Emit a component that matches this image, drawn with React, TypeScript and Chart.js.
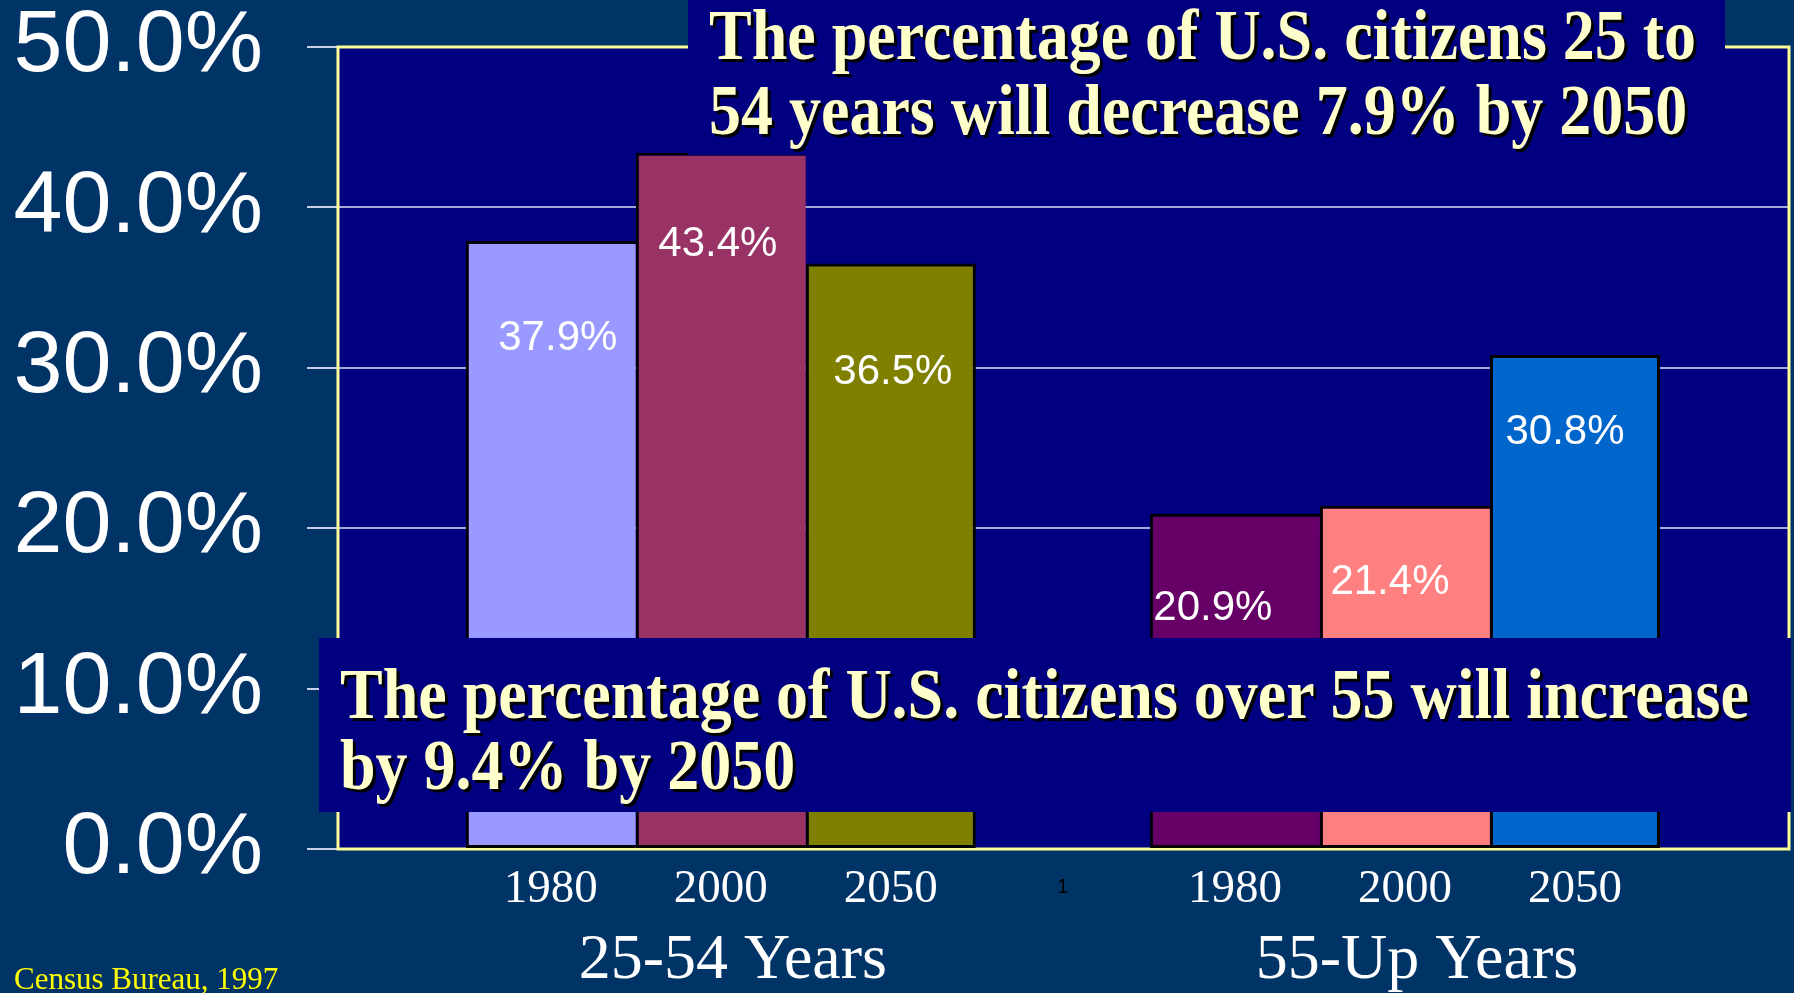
import React, { useEffect, useRef } from 'react';
import { Chart, registerables } from 'chart.js';

Chart.register(...registerables);

// ---- data ----
const groups = ['25-54 Years', '55-Up Years'];
const years = ['1980', '2000', '2050'];
const values1980 = [37.9, 20.9];
const values2000 = [43.4, 21.4];
const values2050 = [36.5, 30.8];
const yTicks = [0, 10, 20, 30, 40, 50];
const topNote = ['The percentage of U.S. citizens 25 to', '54 years will decrease 7.9% by 2050'];
const bottomNote = ['The percentage of U.S. citizens over 55 will increase', 'by 9.4% by 2050'];
const sourceNote = 'Census Bureau, 1997';
const strayLabel = '1';

// ---- styles ----
const colors1980 = ['#9999FF', '#660066'];
const colors2000 = ['#993366', '#FF8080'];
const colors2050 = ['#808000', '#0066CC'];
// label nudges [dx, dy] relative to bar top-centre, per dataset / per group
const labelNudge = [
  [[7, 97], [-22, 95]],
  [[-3, 92], [-15, 77]],
  [[2, 109], [-10, 77]],
];

const OUTER_BG = '#003366';
const PLOT_BG = '#000080';
const FRAME = '#FFFF99';
const NOTE_TEXT = '#FFFFCC';

const series = [values1980, values2000, values2050];
const seriesColors = [colors1980, colors2000, colors2050];

function drawNote(ctx: CanvasRenderingContext2D, lines: string[], x: number, baselines: number[]) {
  ctx.save();
  ctx.font = 'bold 64px "Liberation Serif", "Times New Roman", serif';
  ctx.textAlign = 'left';
  ctx.textBaseline = 'alphabetic';
  ctx.fillStyle = NOTE_TEXT;
  ctx.shadowColor = '#000000';
  ctx.shadowOffsetX = 3;
  ctx.shadowOffsetY = 3;
  ctx.shadowBlur = 0;
  lines.forEach((l, i) => {
    ctx.save();
    ctx.translate(x, baselines[i]);
    ctx.scale(1, 1.12);
    ctx.fillText(l, 0, 0);
    ctx.restore();
  });
  ctx.restore();
}

const decorPlugin = {
  id: 'decor',
  beforeDraw(chart: any) {
    const { ctx, chartArea: a, width, height } = chart;
    ctx.save();
    ctx.fillStyle = OUTER_BG;
    ctx.fillRect(0, 0, width, height);
    ctx.fillStyle = PLOT_BG;
    ctx.fillRect(a.left, a.top, a.right - a.left, a.bottom - a.top);
    ctx.restore();
  },
  beforeDatasetsDraw(chart: any) {
    const { ctx, chartArea: a } = chart;
    ctx.save();
    ctx.strokeStyle = FRAME;
    ctx.lineWidth = 3;
    ctx.strokeRect(a.left, a.top, a.right - a.left, a.bottom - a.top);
    ctx.restore();
  },
  afterDatasetsDraw(chart: any) {
    const { ctx } = chart;
    const xs = chart.scales.x;
    ctx.save();
    // value labels
    ctx.font = '42px "Liberation Sans", Arial, sans-serif';
    ctx.fillStyle = '#FFFFFF';
    ctx.textAlign = 'center';
    ctx.textBaseline = 'middle';
    series.forEach((vals, d) => {
      const meta = chart.getDatasetMeta(d);
      meta.data.forEach((el: any, i: number) => {
        const [dx, dy] = labelNudge[d][i];
        ctx.fillText(vals[i].toFixed(1) + '%', el.x + dx, el.y + dy);
      });
    });
    // year labels
    ctx.font = '47px "Liberation Serif", "Times New Roman", serif';
    series.forEach((_, d) => {
      const meta = chart.getDatasetMeta(d);
      meta.data.forEach((el: any) => {
        ctx.fillText(years[d], el.x, 890);
      });
    });
    // group labels
    ctx.font = '64px "Liberation Serif", "Times New Roman", serif';
    groups.forEach((g, i) => {
      ctx.fillText(g, xs.getPixelForValue(i) + 12, 961);
    });
    // stray label at category boundary
    ctx.font = '20px "Liberation Sans", Arial, sans-serif';
    ctx.fillStyle = '#000000';
    ctx.fillText(strayLabel, xs.getPixelForValue(0.5), 887);
    ctx.restore();
  },
  afterDraw(chart: any) {
    const { ctx } = chart;
    ctx.save();
    ctx.fillStyle = PLOT_BG;
    ctx.fillRect(688, 0, 1037, 155);
    ctx.fillRect(319, 638, 1472, 174);
    ctx.restore();
    drawNote(ctx, topNote, 709, [59, 134]);
    drawNote(ctx, bottomNote, 340, [718, 789]);
    ctx.save();
    ctx.font = '31px "Liberation Serif", "Times New Roman", serif';
    ctx.fillStyle = '#FFFF00';
    ctx.textAlign = 'left';
    ctx.textBaseline = 'alphabetic';
    ctx.fillText(sourceNote, 14, 989);
    ctx.restore();
  },
};

export default function App() {
  const ref = useRef<HTMLCanvasElement>(null);
  useEffect(() => {
    document.body.style.margin = '0';
    const canvas = ref.current!;
    const chart = new Chart(canvas, {
      type: 'bar',
      data: {
        datasets: series.map((vals, d) => ({
          label: years[d],
          data: vals.map((v, i) => ({ x: i, y: v })),
          backgroundColor: seriesColors[d],
          borderColor: '#000000',
          borderWidth: d < 2 ? { top: 3, left: 3, bottom: 3, right: 0 } : 3,
          borderSkipped: false,
          categoryPercentage: 0.7456,
          barPercentage: 1,
        })),
      },
      options: {
        animation: false,
        responsive: false,
        layout: { padding: { left: 0, top: 47, right: 5, bottom: 144 } },
        plugins: { legend: { display: false }, tooltip: { enabled: false } },
        scales: {
          x: {
            type: 'linear',
            min: -0.5596,
            max: 1.5614,
            offset: false,
            bounds: 'data',
            display: false,
            grid: { offset: false },
            afterBuildTicks: (s: any) => {
              s.ticks = groups.map((_, i) => ({ value: i }));
            },
          },
          y: {
            min: 0,
            max: 50,
            afterBuildTicks: (s: any) => {
              s.ticks = yTicks.map((v) => ({ value: v }));
            },
            afterFit: (s: any) => {
              s.width = 338;
              s.paddingTop = 0;
              s.paddingBottom = 0;
            },
            border: { display: false },
            grid: {
              color: '#A8A8D8',
              lineWidth: 2,
              tickLength: 31,
              tickColor: '#C8D0E8',
              drawTicks: true,
            },
            ticks: {
              padding: 44,
              color: '#FFFFFF',
              font: { family: '"Liberation Sans", Arial, sans-serif', size: 88, lineHeight: 1 },
              callback: (v: any) => Number(v).toFixed(1) + '%',
            },
          },
        },
      },
      plugins: [decorPlugin],
    });
    return () => chart.destroy();
  }, []);
  return (
    <div style={{ position: 'fixed', left: 0, top: 0, width: 1794, height: 993 }}>
      <canvas ref={ref} width={1794} height={993} style={{ display: 'block' }} />
    </div>
  );
}
